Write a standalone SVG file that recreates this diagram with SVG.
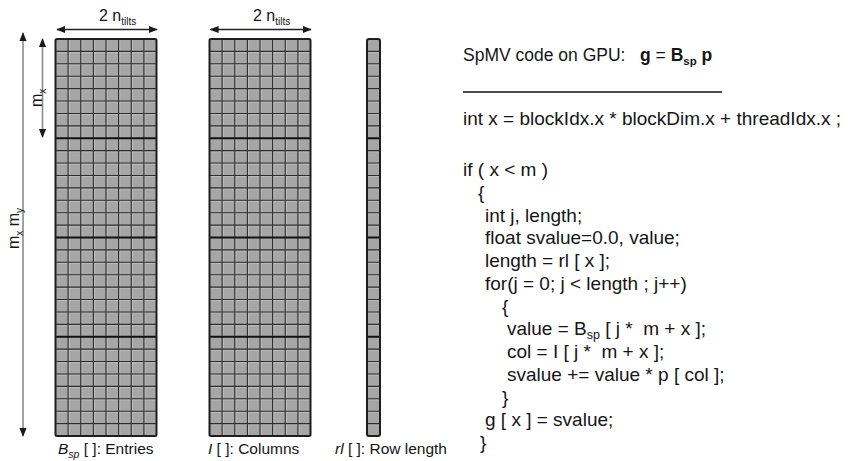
<svg xmlns="http://www.w3.org/2000/svg" width="848" height="461" viewBox="0 0 848 461">
<style>
text{font-family:"Liberation Sans",Arial,sans-serif;fill:#151515}
.code{font-size:19px}
.lbl{font-size:15.5px}
.cell{fill:#a6a6a6}
.thin{fill:none;stroke:#2e2e2e;stroke-width:1.1}
.hl{fill:none;stroke:#c2c2c2;stroke-width:0.8}
.thick{fill:none;stroke:#111;stroke-width:2.2}
.border{fill:none;stroke:#1e1e1e;stroke-width:2}
.arr{fill:none;stroke:#222;stroke-width:1.3}
.arrg{fill:none;stroke:#8a8a8a;stroke-width:1.6}
</style>
<defs>
<marker id="ah" viewBox="0 0 10 10" refX="9" refY="5" markerWidth="9" markerHeight="9" markerUnits="userSpaceOnUse" orient="auto-start-reverse">
<path d="M0,1 L10,5 L0,9 Z" fill="#1a1a1a"/>
</marker>
</defs>

<g id="grid-entries">
<rect class="cell" x="55.5" y="39" width="101" height="397"/>
<path class="hl" d="M56 52.6H156M56 65H156M56 77.4H156M56 89.8H156M56 102.2H156M56 114.6H156M56 127H156M56 151.8H156M56 164.2H156M56 176.6H156M56 189H156M56 201.4H156M56 213.8H156M56 226.2H156M56 251H156M56 263.4H156M56 275.8H156M56 288.2H156M56 300.6H156M56 313H156M56 325.4H156M56 350.3H156M56 362.7H156M56 375.1H156M56 387.5H156M56 399.9H156M56 412.3H156M56 424.7H156M69.3 40V435M82 40V435M94.6 40V435M107.2 40V435M119.8 40V435M132.5 40V435M145.1 40V435"/>
<path class="thin" d="M68.1 39V436M80.75 39V436M93.4 39V436M106 39V436M118.6 39V436M131.25 39V436M143.9 39V436M55.5 51.41H156.5M55.5 63.81H156.5M55.5 76.22H156.5M55.5 88.63H156.5M55.5 101.03H156.5M55.5 113.44H156.5M55.5 125.84H156.5M55.5 150.66H156.5M55.5 163.06H156.5M55.5 175.47H156.5M55.5 187.88H156.5M55.5 200.28H156.5M55.5 212.69H156.5M55.5 225.09H156.5M55.5 249.91H156.5M55.5 262.31H156.5M55.5 274.72H156.5M55.5 287.13H156.5M55.5 299.53H156.5M55.5 311.94H156.5M55.5 324.34H156.5M55.5 349.16H156.5M55.5 361.56H156.5M55.5 373.97H156.5M55.5 386.38H156.5M55.5 398.78H156.5M55.5 411.19H156.5M55.5 423.59H156.5"/>
<path class="thick" d="M55.5 138.25H156.5M55.5 237.5H156.5M55.5 336.75H156.5"/>
<rect class="border" x="55.5" y="39" width="101" height="397" rx="1.5"/>
</g>

<g id="grid-columns">
<rect class="cell" x="209.5" y="39" width="101" height="397"/>
<path class="hl" d="M210 52.6H310M210 65H310M210 77.4H310M210 89.8H310M210 102.2H310M210 114.6H310M210 127H310M210 151.8H310M210 164.2H310M210 176.6H310M210 189H310M210 201.4H310M210 213.8H310M210 226.2H310M210 251H310M210 263.4H310M210 275.8H310M210 288.2H310M210 300.6H310M210 313H310M210 325.4H310M210 350.3H310M210 362.7H310M210 375.1H310M210 387.5H310M210 399.9H310M210 412.3H310M210 424.7H310M223.3 40V435M236 40V435M248.6 40V435M261.2 40V435M273.8 40V435M286.5 40V435M299.1 40V435"/>
<path class="thin" d="M222.1 39V436M234.75 39V436M247.4 39V436M260 39V436M272.6 39V436M285.25 39V436M297.9 39V436M209.5 51.41H310.5M209.5 63.81H310.5M209.5 76.22H310.5M209.5 88.63H310.5M209.5 101.03H310.5M209.5 113.44H310.5M209.5 125.84H310.5M209.5 150.66H310.5M209.5 163.06H310.5M209.5 175.47H310.5M209.5 187.88H310.5M209.5 200.28H310.5M209.5 212.69H310.5M209.5 225.09H310.5M209.5 249.91H310.5M209.5 262.31H310.5M209.5 274.72H310.5M209.5 287.13H310.5M209.5 299.53H310.5M209.5 311.94H310.5M209.5 324.34H310.5M209.5 349.16H310.5M209.5 361.56H310.5M209.5 373.97H310.5M209.5 386.38H310.5M209.5 398.78H310.5M209.5 411.19H310.5M209.5 423.59H310.5"/>
<path class="thick" d="M209.5 138.25H310.5M209.5 237.5H310.5M209.5 336.75H310.5"/>
<rect class="border" x="209.5" y="39" width="101" height="397" rx="1.5"/>
</g>

<g id="grid-rowlength">
<rect class="cell" x="367" y="39" width="13" height="397"/>
<path class="hl" d="M368 52.6H379M368 65H379M368 77.4H379M368 89.8H379M368 102.2H379M368 114.6H379M368 127H379M368 151.8H379M368 164.2H379M368 176.6H379M368 189H379M368 201.4H379M368 213.8H379M368 226.2H379M368 251H379M368 263.4H379M368 275.8H379M368 288.2H379M368 300.6H379M368 313H379M368 325.4H379M368 350.3H379M368 362.7H379M368 375.1H379M368 387.5H379M368 399.9H379M368 412.3H379M368 424.7H379"/>
<path class="thin" d="M367 51.41H380M367 63.81H380M367 76.22H380M367 88.63H380M367 101.03H380M367 113.44H380M367 125.84H380M367 150.66H380M367 163.06H380M367 175.47H380M367 187.88H380M367 200.28H380M367 212.69H380M367 225.09H380M367 249.91H380M367 262.31H380M367 274.72H380M367 287.13H380M367 299.53H380M367 311.94H380M367 324.34H380M367 349.16H380M367 361.56H380M367 373.97H380M367 386.38H380M367 398.78H380M367 411.19H380M367 423.59H380"/>
<path class="thick" d="M367 138.25H380M367 237.5H380M367 336.75H380"/>
<rect class="border" x="367" y="39" width="13" height="397" rx="2"/>
</g>

<g id="connectors">
<line class="arr" x1="57" y1="29.5" x2="157" y2="29.5" marker-start="url(#ah)" marker-end="url(#ah)"/>
<line class="arr" x1="210.5" y1="29.5" x2="311" y2="29.5" marker-start="url(#ah)" marker-end="url(#ah)"/>
<line class="arrg" x1="42.5" y1="39" x2="42.5" y2="137" marker-start="url(#ah)" marker-end="url(#ah)"/>
<line class="arrg" x1="23" y1="33" x2="23" y2="436" marker-start="url(#ah)" marker-end="url(#ah)"/>
</g>

<g id="dim-labels">
<text x="99" y="21" font-size="16">2 n<tspan font-size="10" dy="3.5">tilts</tspan></text>
<text x="253" y="21" font-size="16">2 n<tspan font-size="10" dy="3.5">tilts</tspan></text>
<text transform="translate(42,107) rotate(-90)" font-size="16">m<tspan font-size="10" dy="4">x</tspan></text>
<text transform="translate(18.5,249) rotate(-90)" font-size="16" xml:space="preserve">m<tspan font-size="10" dy="4">x</tspan><tspan dy="-4"> m</tspan><tspan font-size="10" dy="4">y</tspan></text>
</g>

<g id="array-labels">
<text class="lbl" x="58" y="454" xml:space="preserve"><tspan font-style="italic">B</tspan><tspan font-style="italic" font-size="10.5" dy="3.5">sp</tspan><tspan dy="-3.5"> [ ]: Entries</tspan></text>
<text class="lbl" x="208" y="454" xml:space="preserve"><tspan font-style="italic">I</tspan> [ ]: Columns</text>
<text class="lbl" x="335" y="454" xml:space="preserve"><tspan font-style="italic">rl</tspan> [ ]: Row length</text>
</g>

<g id="code">
<text x="463" y="61" font-size="17.5" xml:space="preserve">SpMV code on GPU:   <tspan font-weight="bold">g</tspan> = <tspan font-weight="bold">B</tspan><tspan font-weight="bold" font-size="11.5" dy="4">sp</tspan><tspan font-weight="bold" dy="-4"> p</tspan></text>
<line x1="463" y1="92" x2="722" y2="92" stroke="#111" stroke-width="1.4"/>
<text class="code" x="463" y="125" xml:space="preserve">int x = blockIdx.x * blockDim.x + threadIdx.x ;</text>
<text class="code" x="463" y="176" xml:space="preserve">if ( x &lt; m )</text>
<text class="code" x="478" y="198.75">{</text>
<text class="code" x="485" y="221.5">int j, length;</text>
<text class="code" x="485" y="244.25">float svalue=0.0, value;</text>
<text class="code" x="485" y="267" xml:space="preserve">length = rl [ x ];</text>
<text class="code" x="485" y="289.75" xml:space="preserve">for(j = 0; j &lt; length ; j++)</text>
<text class="code" x="502" y="312.5">{</text>
<text class="code" x="507" y="335.25" xml:space="preserve">value = B<tspan font-size="12.5" dy="4">sp</tspan><tspan dy="-4"> [ j *  m + x ];</tspan></text>
<text class="code" x="507" y="358" xml:space="preserve">col = I [ j *  m + x ];</text>
<text class="code" x="507" y="380.75" xml:space="preserve">svalue += value * p [ col ];</text>
<text class="code" x="502" y="403.5">}</text>
<text class="code" x="485" y="426.25" xml:space="preserve">g [ x ] = svalue;</text>
<text class="code" x="480" y="449">}</text>
</g>
</svg>
